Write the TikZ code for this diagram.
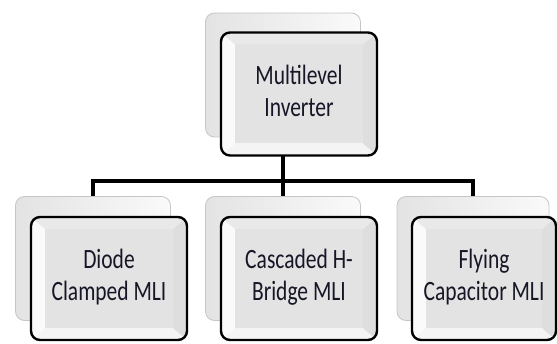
\documentclass[tikz,border=0pt]{standalone}
\usepackage{graphicx}
\usepackage{fontspec}
\setmainfont{Carlito}
\usepackage{tikz}
\usetikzlibrary{positioning}

\definecolor{txtcol}{RGB}{22,22,38}
\newcommand\boxfont{\fontsize{21.5}{24.5}\selectfont}
\newcommand\boxtext[1]{\scalebox{1}[1.3]{\begin{tabular}{@{}c@{}}#1\end{tabular}}}

\begin{document}
\begin{tikzpicture}[x=1pt,y=1pt,node distance=190pt,
    backbox/.style={draw=gray!45,line width=0.8pt,rounded corners=9pt,
      left color=gray!22,right color=gray!4,
      minimum width=155pt,minimum height=124pt,inner sep=0pt},
    frontbox/.style={draw=black,line width=2.4pt,rounded corners=9pt,fill=gray!9,
      minimum width=156pt,minimum height=123pt,inner sep=0pt,text=txtcol,font=\boxfont,
      path picture={
        \fill[white!96!gray,sharp corners] (path picture bounding box.north west)
          -- ([shift={(14pt,-12pt)}]path picture bounding box.north west)
          -- ([shift={(14pt,12pt)}]path picture bounding box.south west)
          -- (path picture bounding box.south west) -- cycle;
        \fill[gray!26,sharp corners] (path picture bounding box.north east)
          -- ([shift={(-14pt,-12pt)}]path picture bounding box.north east)
          -- ([shift={(-14pt,12pt)}]path picture bounding box.south east)
          -- (path picture bounding box.south east) -- cycle;
        \fill[gray!17,sharp corners] (path picture bounding box.north west)
          -- ([shift={(14pt,-12pt)}]path picture bounding box.north west)
          -- ([shift={(-14pt,-12pt)}]path picture bounding box.north east)
          -- (path picture bounding box.north east) -- cycle;
        \fill[gray!22,sharp corners] ([shift={(14pt,12pt)}]path picture bounding box.south west)
          rectangle ([shift={(-14pt,-12pt)}]path picture bounding box.north east);}},
    link/.style={draw=black,line width=4pt}]

  \useasboundingbox (0,0) rectangle (557,343);

  \node[backbox] (dcback) at (93,84.5) {};
  \node[backbox] (chbback) [right of=dcback] {};
  \node[backbox,minimum width=152pt] (fcback) [right of=chbback] {};
  \node[backbox] (mliback) [above of=chbback,node distance=183.5pt] {};

  \coordinate (bus) at ([yshift=-43.5pt]mliback.south);

  \draw[link] (mliback.south) -- (chbback.north);
  \draw[link] (dcback.north) |- (bus) -| (fcback.north);

  \node[frontbox] (mli) at ([shift={(16pt,-19pt)}]mliback) {\boxtext{Multilevel\\Inverter}};
  \node[frontbox] (dc) at ([shift={(16pt,-20pt)}]dcback) {\boxtext{Diode\\Clamped MLI}};
  \node[frontbox] (chb) at ([shift={(16pt,-20pt)}]chbback) {\boxtext{Cascaded H-\\Bridge MLI}};
  \node[frontbox,minimum width=144pt] (fc) at ([shift={(11pt,-20pt)}]fcback) {\boxtext{Flying\\Capacitor MLI}};
\end{tikzpicture}
\end{document}
